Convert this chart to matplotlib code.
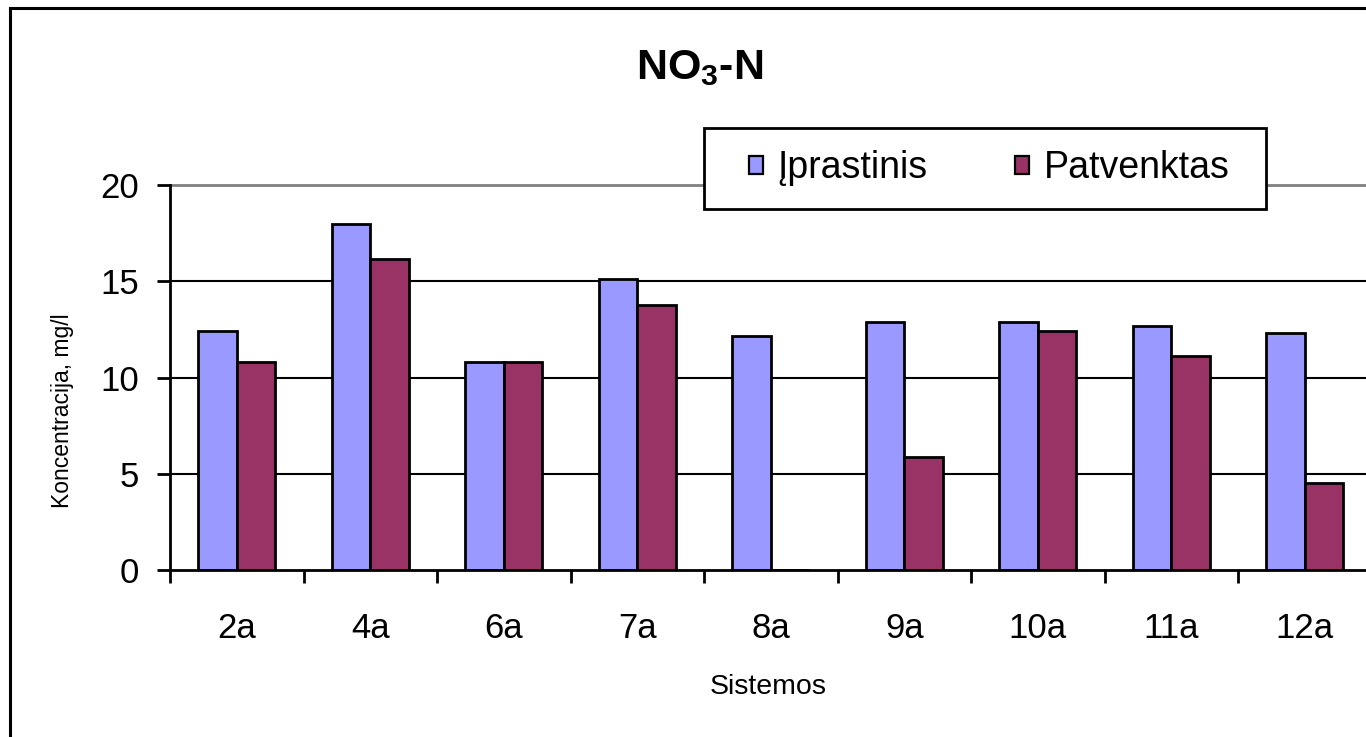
import matplotlib
matplotlib.use("Agg")
import matplotlib.pyplot as plt
from matplotlib.patches import Patch, Rectangle
from matplotlib.lines import Line2D

plt.rcParams['font.family'] = ['Liberation Sans', 'DejaVu Sans']
plt.rcParams['mathtext.fontset'] = 'custom'
plt.rcParams['mathtext.rm'] = 'Liberation Sans'
plt.rcParams['mathtext.bf'] = 'Liberation Sans:bold'

categories = ["2a", "4a", "6a", "7a", "8a", "9a", "10a", "11a", "12a"]
iprastinis = [12.4, 17.95, 10.8, 15.1, 12.15, 12.9, 12.9, 12.7, 12.3]
patvenktas = [10.8, 16.15, 10.8, 13.75, 0.0, 5.85, 12.4, 11.1, 4.5]
series_names = ["Įprastinis", "Patvenktas"]
yticks = [0, 5, 10, 15, 20]

W, H = 1366, 737
fig = plt.figure(figsize=(W / 100, H / 100), dpi=100)
fig.patch.set_facecolor('white')

ax_left, ax_right, ax_top, ax_bottom = 170, 1371.5, 185, 570
ax = fig.add_axes([ax_left / W, 1 - ax_bottom / H, (ax_right - ax_left) / W, (ax_bottom - ax_top) / H])

blue = '#9999FF'
red = '#993366'
n = len(categories)
bw = 0.29
xs = [i + 0.5 for i in range(n)]
ax.bar([x - bw / 2 for x in xs], iprastinis, width=bw, color=blue, edgecolor='black', linewidth=2.0, zorder=3)
ax.bar([x + bw / 2 for x in xs], patvenktas, width=bw, color=red, edgecolor='black', linewidth=2.0, zorder=3)

ax.set_xlim(0, n)
ax.set_ylim(0, 20)

for yv in yticks[1:-1]:
    ax.axhline(yv, color='black', linewidth=1.5, zorder=1)
ax.axhline(20, color='#808080', linewidth=2.0, zorder=1, clip_on=False)

for s in ['top', 'right']:
    ax.spines[s].set_visible(False)
ax.spines['left'].set_linewidth(2.0)
ax.spines['bottom'].set_linewidth(2.0)
ax.spines['left'].set_zorder(4)
ax.spines['bottom'].set_zorder(4)

ax.set_yticks(yticks)
ax.set_yticklabels([str(v) for v in yticks])
ax.tick_params(axis='y', direction='out', length=9.5, width=2.0, labelsize=25, pad=13)

ax.set_xticks(list(range(n + 1)))
ax.set_xticklabels([])
ax.tick_params(axis='x', which='major', direction='out', length=9, width=2.0)
ax.set_xticks(xs, minor=True)
ax.set_xticklabels(categories, minor=True)
ax.tick_params(axis='x', which='minor', length=0, labelsize=25, pad=30)

# Title
fig.text(700 / W, 1 - 68 / H, r'NO$_{\mathbf{3}}$-N', fontsize=31, fontweight='bold',
         ha='center', va='center')

# Axis labels
fig.text(62 / W, 1 - 411 / H, 'Koncentracija, mg/l', fontsize=16.5, rotation=90,
         ha='center', va='center')
fig.text(768 / W, 1 - 687 / H, 'Sistemos', fontsize=20.5, ha='center', va='center')

# Legend frame
lx0, lx1, ly0, ly1 = 704, 1266, 128, 209
fig.add_artist(Rectangle((lx0 / W, 1 - ly1 / H), (lx1 - lx0) / W, (ly1 - ly0) / H,
                         transform=fig.transFigure, facecolor='white', edgecolor='black',
                         linewidth=2.0, zorder=5))
fs = 27
px = fs * 100 / 72
handles = [Patch(facecolor=blue, edgecolor='black', linewidth=1.6),
           Patch(facecolor=red, edgecolor='black', linewidth=1.6)]
leg = fig.legend(handles, series_names, loc='center',
                 bbox_to_anchor=(989 / W, 1 - 168.5 / H), ncol=2, fontsize=fs,
                 handlelength=14 / px, handleheight=14 / px, handletextpad=15 / px,
                 columnspacing=87 / px, borderpad=0.0, frameon=False,
                 borderaxespad=0)
leg.set_zorder(6)

# Outer chart border (left and top visible)
fig.add_artist(Line2D([10 / W, 10 / W], [0, 1 - 8 / H], color='black', linewidth=2.2, transform=fig.transFigure))
fig.add_artist(Line2D([10 / W, 1], [1 - 8 / H, 1 - 8 / H], color='black', linewidth=2.2, transform=fig.transFigure))

fig.savefig('out.png', dpi=100, facecolor='white')
